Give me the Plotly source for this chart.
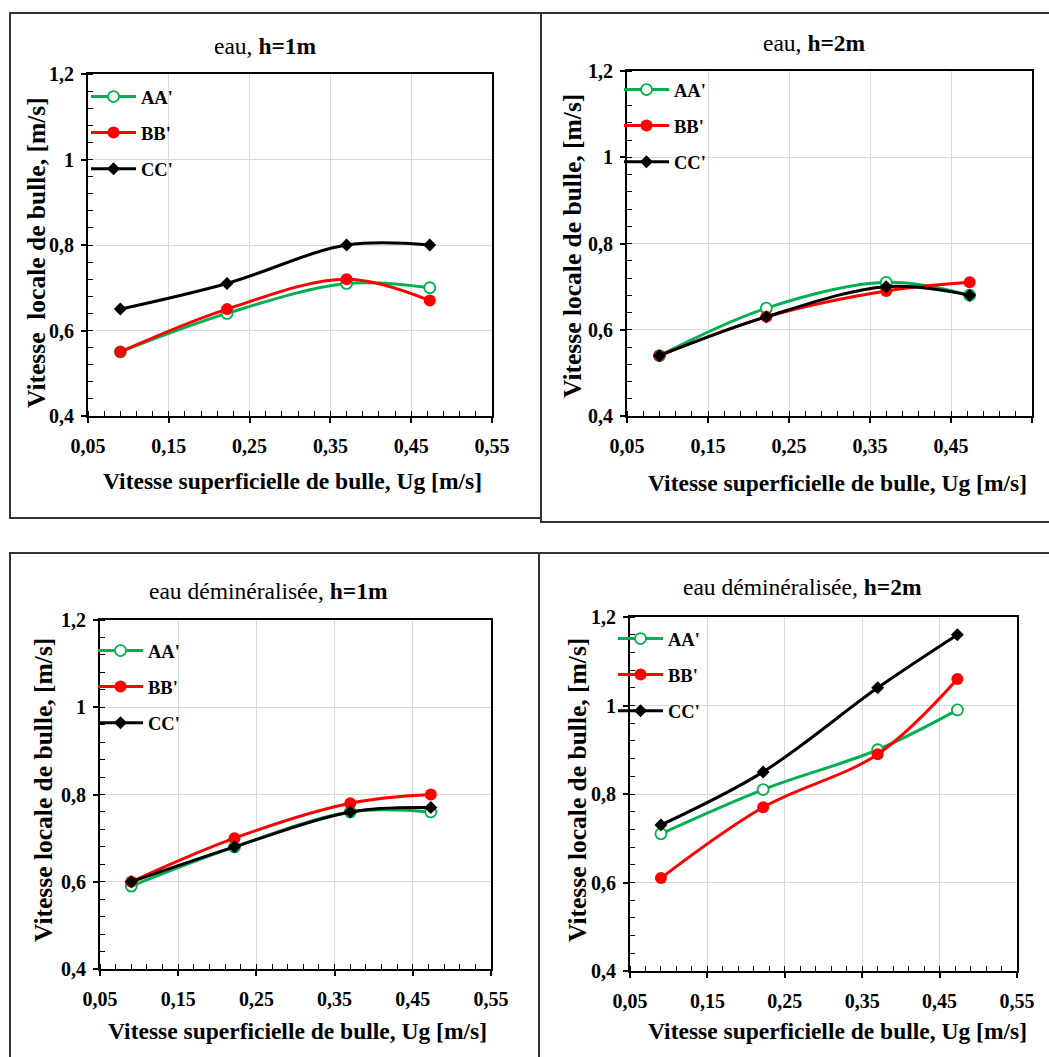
import plotly.graph_objects as go

# ---------------- data ----------------
ug = [0.09, 0.222, 0.37, 0.473]
series_names = ["AA'", "BB'", "CC'"]

eau_h1_AA = [0.55, 0.64, 0.71, 0.70]
eau_h1_BB = [0.55, 0.65, 0.72, 0.67]
eau_h1_CC = [0.65, 0.71, 0.80, 0.80]

eau_h2_AA = [0.54, 0.65, 0.71, 0.68]
eau_h2_BB = [0.54, 0.63, 0.69, 0.71]
eau_h2_CC = [0.54, 0.63, 0.70, 0.68]

dem_h1_AA = [0.59, 0.68, 0.76, 0.76]
dem_h1_BB = [0.60, 0.70, 0.78, 0.80]
dem_h1_CC = [0.60, 0.68, 0.76, 0.77]

dem_h2_AA = [0.71, 0.81, 0.90, 0.99]
dem_h2_BB = [0.61, 0.77, 0.89, 1.06]
dem_h2_CC = [0.73, 0.85, 1.04, 1.16]

panel_titles = ["eau, <b>h=1m</b>", "eau, <b>h=2m</b>",
                "eau déminéralisée, <b>h=1m</b>", "eau déminéralisée, <b>h=2m</b>"]
ytitles = ["Vitesse\u00a0 locale de bulle, [m/s]", "Vitesse locale de bulle, [m/s]",
           "Vitesse locale de bulle, [m/s]", "Vitesse locale de bulle, [m/s]"]
xtitle = "Vitesse superficielle de bulle, Ug [m/s]"

x_tickvals = [0.05, 0.15, 0.25, 0.35, 0.45, 0.55]
x_ticktext = ["0,05", "0,15", "0,25", "0,35", "0,45", "0,55"]
y_tickvals = [0.4, 0.6, 0.8, 1.0, 1.2]
y_ticktext = ["0,4", "0,6", "0,8", "1", "1,2"]

panels = [
    (eau_h1_AA, eau_h1_BB, eau_h1_CC),
    (eau_h2_AA, eau_h2_BB, eau_h2_CC),
    (dem_h1_AA, dem_h1_BB, dem_h1_CC),
    (dem_h2_AA, dem_h2_BB, dem_h2_CC),
]

# ---------------- layout geometry (pixels) ----------------
W, H = 1049, 1057


def px(X):
    return X / W


def py(Y):
    return 1 - Y / H


# plot areas in pixel coords: (left, right, top, bottom)
plot_boxes = [
    (88, 492, 74, 416),
    (627, 1032, 71, 416),
    (100, 491, 620, 969),
    (630, 1017, 617, 971),
]
title_pos = [(265, 46), (814, 43), (268, 591), (802, 587)]
ytitle_pos = [(37, 253), (572, 246), (43, 790), (577, 790)]
xtitle_pos = [(292, 481), (837, 483), (297, 1031), (837, 1031)]
legend_pos = [(86, 78), (619, 71), (93, 632), (613, 620)]
panel_frames = [
    (10, 541, 13, 518),
    (541, 1070, 13, 522),
    (10, 539, 553, 1080),
    (539, 1070, 553, 1080),
]

colors = {"AA'": "#00B050", "BB'": "#FF0000", "CC'": "#000000"}
FONT = "Liberation Serif"

fig = go.Figure()

for i, vals in enumerate(panels):
    k = "" if i == 0 else str(i + 1)
    xa = "x" + k
    ya = "y" + k
    leg = "legend" + k
    for name, yv in zip(series_names, vals):
        if name == "AA'":
            marker = dict(symbol="circle", size=11, color="white",
                          line=dict(color=colors[name], width=1.8))
        elif name == "BB'":
            marker = dict(symbol="circle", size=12, color=colors[name],
                          line=dict(color=colors[name], width=0))
        else:
            marker = dict(symbol="diamond", size=10, color=colors[name],
                          line=dict(color=colors[name], width=0))
        fig.add_trace(go.Scatter(
            x=ug, y=yv, name=name, mode="lines+markers",
            line=dict(color=colors[name], width=3, shape="spline", smoothing=1.0),
            marker=marker, xaxis=xa, yaxis=ya, legend=leg,
            legendgroup=f"{i}{name}",
        ))

    l, r, t, b = plot_boxes[i]
    axis_common = dict(
        showline=True, linecolor="black", linewidth=2, mirror=True,
        showgrid=True, gridcolor="#d9d9d9", gridwidth=1.3, zeroline=False,
        ticks="outside", ticklen=5, tickwidth=1.5, tickcolor="black",
        tickfont=dict(family=FONT, size=20, color="black", weight="bold"),
        automargin=False,
    )
    fig.layout["xaxis" + k] = dict(
        domain=[px(l), px(r)], range=[0.05, 0.55], anchor=ya,
        tickmode="array", tickvals=x_tickvals, ticktext=x_ticktext,
        minor=dict(dtick=0.02, tick0=0.05, ticks="inside", ticklen=5,
                   tickwidth=1.3, tickcolor="black", showgrid=False),
        ticklabelstandoff=6,
        **axis_common,
    )
    fig.layout["yaxis" + k] = dict(
        domain=[py(b), py(t)], range=[0.4, 1.2], anchor=xa,
        tickmode="array", tickvals=y_tickvals, ticktext=y_ticktext,
        minor=dict(dtick=0.04, tick0=0.4, ticks="inside", ticklen=5,
                   tickwidth=1.3, tickcolor="black", showgrid=False),
        ticklabelstandoff=3,
        **axis_common,
    )
    lx, ly = legend_pos[i]
    fig.layout[leg] = dict(
        x=px(lx), y=py(ly), xanchor="left", yanchor="top",
        xref="paper", yref="paper",
        bgcolor="rgba(255,255,255,0)", borderwidth=0,
        font=dict(family=FONT, size=18.5, color="black", weight="bold"),
        tracegroupgap=9, itemwidth=45,
    )

    # panel title
    tx, ty = title_pos[i]
    fig.add_annotation(x=px(tx), y=py(ty), xref="paper", yref="paper",
                       text=panel_titles[i], showarrow=False,
                       xanchor="center", yanchor="middle",
                       font=dict(family=FONT, size=23.5, color="black"))
    # y title
    yx, yy = ytitle_pos[i]
    fig.add_annotation(x=px(yx), y=py(yy), xref="paper", yref="paper",
                       text="<b>" + ytitles[i] + "</b>", showarrow=False,
                       textangle=-90, xanchor="center", yanchor="middle",
                       font=dict(family=FONT, size=25.5, color="black"))
    # x title
    xx, xy = xtitle_pos[i]
    fig.add_annotation(x=px(xx), y=py(xy), xref="paper", yref="paper",
                       text="<b>" + xtitle + "</b>", showarrow=False,
                       xanchor="center", yanchor="middle",
                       font=dict(family=FONT, size=23.5, color="black"))
    # panel frame
    fl, fr, ft, fb = panel_frames[i]
    fig.add_shape(type="rect", xref="paper", yref="paper",
                  x0=px(fl), x1=px(fr), y0=py(fb), y1=py(ft),
                  line=dict(color="#333333", width=2), layer="below")

fig.update_layout(
    width=W, height=H, autosize=False,
    margin=dict(l=0, r=0, t=0, b=0, pad=0, autoexpand=False),
    paper_bgcolor="white", plot_bgcolor="white",
    showlegend=True,
    font=dict(family=FONT, color="black"),
)

fig.write_html(
    "out.html",
    config=dict(displayModeBar=False),
    post_script="document.body.style.margin='0';"
                "document.documentElement.style.overflow='hidden';"
                "document.body.style.overflow='hidden';",
)
